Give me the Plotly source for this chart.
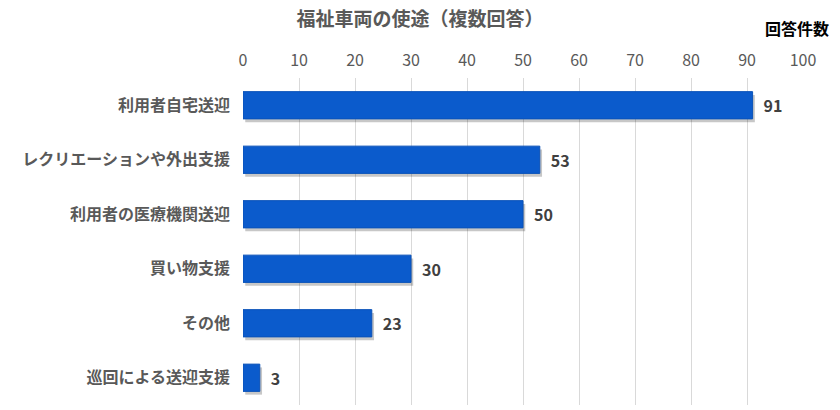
import plotly.graph_objects as go

categories = ["利用者自宅送迎", "レクリエーションや外出支援", "利用者の医療機関送迎",
              "買い物支援", "その他", "巡回による送迎支援"]
counts = [91, 53, 50, 30, 23, 3]
tick_vals = list(range(0, 101, 10))

FONT = "Noto Sans CJK JP"

fig = go.Figure()
# soft shadow under the bars
fig.add_trace(go.Bar(
    y=categories, x=counts, orientation='h', base=0.4,
    marker=dict(color='rgba(0,0,0,0.22)', line=dict(width=0)),
    hoverinfo='skip', showlegend=False, offset=-0.19, width=0.5
))
fig.add_trace(go.Bar(
    y=categories, x=counts, orientation='h',
    marker=dict(color='#0b5bcc', line=dict(color='#0a52b8', width=1)),
    texttemplate='\u2002<b>%{x}</b>', textposition='outside',
    textfont=dict(family=FONT, size=16, color='#404040'),
    cliponaxis=False, showlegend=False, offset=-0.25, width=0.5
))

fig.update_layout(
    width=840, height=410,
    margin=dict(l=243, r=37, t=78, b=5, autoexpand=False),
    paper_bgcolor='white', plot_bgcolor='white',
    font=dict(family=FONT, color='#595959'),
    barmode='overlay',
    title=dict(text="<b>福祉車両の使途（複数回答）</b>", x=0.5, xanchor='center',
               y=0.97, yanchor='top', font=dict(size=19, color='#595959')),
    xaxis=dict(range=[0, 100], tickvals=tick_vals, side='top', showgrid=True,
               gridcolor='#d9d9d9', gridwidth=1, zeroline=False, showline=False,
               ticks='', automargin=False, ticklabelstandoff=8,
               tickfont=dict(size=16, color='#595959'),
               tickprefix='<b>', ticksuffix='</b>'),
    yaxis=dict(autorange='reversed', showgrid=False, showline=False, ticks='',
               automargin=False, ticklabelstandoff=12,
               tickfont=dict(size=16, color='#595959'),
               tickprefix='<b>', ticksuffix='</b>'),
    annotations=[dict(text="<b>回答件数</b>", xref='paper', yref='paper',
                      x=1.05, y=1.0, xanchor='right', yanchor='bottom', yshift=36,
                      showarrow=False, font=dict(size=16, color='#000000'))]
)

fig.write_html("out.html", config={'displayModeBar': False},
               post_script="document.body.style.margin='0';")
